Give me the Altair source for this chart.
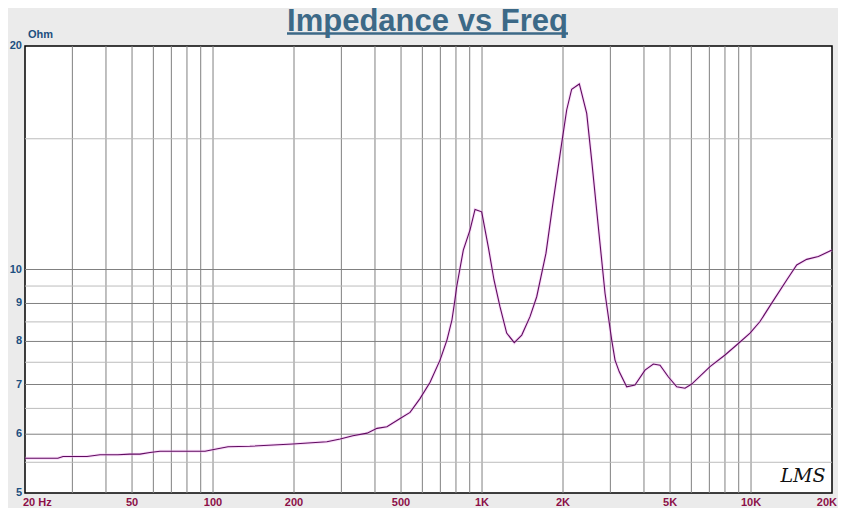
import altair as alt
import pandas as pd

# ---- data ----
freq = [20, 26.5, 27.7, 34, 38, 44.3, 49, 53.5, 58.3, 63.5, 93.4, 97.4, 113.7, 137,
        198, 265, 297, 331, 374, 407, 443, 496, 540, 588, 641, 698, 741, 773, 793,
        805, 852, 902, 942, 997, 1055, 1108, 1166, 1235, 1318, 1405, 1508, 1597,
        1729, 1830, 1978, 2064, 2154, 2300, 2450, 2556, 2706, 2866, 3034, 3122,
        3238, 3450, 3703, 4035, 4334, 4589, 4925, 5294, 5683, 6018, 7040, 8004,
        8970, 9914, 10798, 11938, 13574, 14786, 16104, 17790, 20000]
ohm = [5.57, 5.57, 5.60, 5.60, 5.63, 5.63, 5.64, 5.64, 5.67, 5.69, 5.69, 5.71, 5.77, 5.78,
       5.82, 5.86, 5.91, 5.97, 6.02, 6.11, 6.14, 6.30, 6.42, 6.70, 7.05, 7.55, 8.04, 8.55, 9.10,
       9.48, 10.62, 11.30, 12.05, 11.96, 10.73, 9.68, 8.91, 8.21, 7.97, 8.16, 8.64, 9.19,
       10.52, 12.2, 14.80, 16.40, 17.49, 17.78, 16.23, 14.04, 11.42, 9.29, 8.04, 7.55,
       7.28, 6.95, 6.99, 7.32, 7.46, 7.43, 7.17, 6.95, 6.92, 7.01, 7.40, 7.67,
       7.95, 8.21, 8.51, 9.01, 9.68, 10.14, 10.32, 10.41, 10.62]

vgrid = [30, 40, 50, 60, 70, 80, 90, 100, 200, 300, 400, 500, 600, 700, 800, 900,
         1000, 2000, 3000, 4000, 5000, 6000, 7000, 8000, 9000, 10000]
hgrid_major = [6, 7, 8, 9, 10]
hgrid_minor = [5.5, 6.5, 7.5, 8.5, 9.5, 15]

xtick_first = [20]
xtick_first_text = ["20 Hz"]
xtick_vals = [50, 100, 200, 500, 1000, 2000, 5000, 10000]
xtick_text = ["50", "100", "200", "500", "1K", "2K", "5K", "10K"]
xtick_last = [20000]
xtick_last_text = ["20K"]
ytick_vals = [5, 6, 7, 8, 9, 10, 20]
ytick_text = ["5", "6", "7", "8", "9", "10", "20"]

title_text = "Impedance vs Freq"
unit_text = "Ohm"
logo_text = "LMS"

W, H = 807, 447
FONT = "Liberation Sans"
XLAB = "#8c1048"
YLAB = "#1c4f80"
TITLE_C = "#3c6987"

xscale = alt.Scale(type="log", domain=[20, 20000], nice=False)
yscale = alt.Scale(type="log", domain=[5, 20], nice=False)

curve = pd.DataFrame({"f": freq, "z": ohm})

v_rules = alt.Chart(pd.DataFrame({"f": vgrid})).mark_rule(
    color="#808080", strokeWidth=1
).encode(x=alt.X("f:Q", scale=xscale, axis=None))

h_minor = alt.Chart(pd.DataFrame({"z": hgrid_minor})).mark_rule(
    color="#bcbcbc", strokeWidth=1
).encode(y=alt.Y("z:Q", scale=yscale, axis=None))

h_major = alt.Chart(pd.DataFrame({"z": hgrid_major})).mark_rule(
    color="#808080", strokeWidth=1
).encode(y=alt.Y("z:Q", scale=yscale, axis=None))

halo = alt.Chart(curve).mark_line(color="#f0a8f0", strokeWidth=3, opacity=0.4).encode(
    x=alt.X("f:Q", scale=xscale, axis=None), y=alt.Y("z:Q", scale=yscale, axis=None))
line = alt.Chart(curve).mark_line(color="#600c60", strokeWidth=1.1).encode(
    x=alt.X("f:Q", scale=xscale, axis=None), y=alt.Y("z:Q", scale=yscale, axis=None))

xl_first = alt.Chart(pd.DataFrame({"f": xtick_first, "t": xtick_first_text})).mark_text(
    align="left", baseline="middle", dx=-2, font=FONT, fontWeight="bold", fontSize=11, color=XLAB
).encode(x=alt.X("f:Q", scale=xscale, axis=None), y=alt.value(H + 10), text="t:N")

xl = alt.Chart(pd.DataFrame({"f": xtick_vals, "t": xtick_text})).mark_text(
    align="center", baseline="middle", font=FONT, fontWeight="bold", fontSize=11, color=XLAB
).encode(x=alt.X("f:Q", scale=xscale, axis=None), y=alt.value(H + 10), text="t:N")

xl_last = alt.Chart(pd.DataFrame({"f": xtick_last, "t": xtick_last_text})).mark_text(
    align="right", baseline="middle", dx=5, font=FONT, fontWeight="bold", fontSize=11, color=XLAB
).encode(x=alt.X("f:Q", scale=xscale, axis=None), y=alt.value(H + 10), text="t:N")

yl = alt.Chart(pd.DataFrame({"z": ytick_vals, "t": ytick_text})).mark_text(
    align="right", baseline="middle", font=FONT, fontWeight="bold", fontSize=11, color=YLAB
).encode(y=alt.Y("z:Q", scale=yscale, axis=None), x=alt.value(-3), text="t:N")

title = alt.Chart(pd.DataFrame({"t": [title_text]})).mark_text(
    align="center", baseline="alphabetic", font=FONT, fontWeight="bold", fontSize=31, color=TITLE_C
).encode(x=alt.value(W / 2 - 1), y=alt.value(-15.5), text="t:N")

underline = alt.Chart(pd.DataFrame({"t": [title_text]})).mark_rule(
    color=TITLE_C, strokeWidth=2.5
).encode(x=alt.value(262), x2=alt.value(543), y=alt.value(-12.5))

unit = alt.Chart(pd.DataFrame({"t": [unit_text]})).mark_text(
    align="left", baseline="middle", font=FONT, fontWeight="bold", fontSize=11, color=YLAB
).encode(x=alt.value(3), y=alt.value(-11), text="t:N")

logo = alt.Chart(pd.DataFrame({"t": [logo_text]})).mark_text(
    align="center", baseline="middle", font="DejaVu Serif", fontStyle="italic", fontSize=19, color="#111111"
).encode(x=alt.value(778), y=alt.value(430), text="t:N")

chart = alt.layer(
    v_rules, h_minor, h_major, halo, line, xl_first, xl, xl_last, yl,
    title, underline, unit, logo
).properties(
    width=W, height=H,
    background="#ebebeb",
    autosize=alt.AutoSizeParams(type="none"),
    padding={"left": 17, "top": 38, "right": 6, "bottom": 15},
).configure_view(
    fill="white", stroke="black", strokeWidth=1.5
)

chart.save("out.html", embed_options={"renderer": "svg", "actions": False})
